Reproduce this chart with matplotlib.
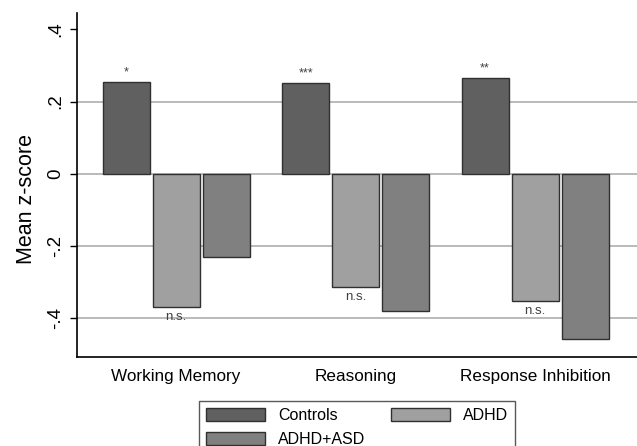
import numpy as np
import matplotlib.pyplot as plt

plt.rcParams['font.family'] = ['Liberation Sans', 'DejaVu Sans']

tasks = ['Working Memory', 'Reasoning', 'Response Inhibition']
groups = ['Controls', 'ADHD', 'ADHD+ASD']
controls = [0.255, 0.251, 0.265]
adhd = [-0.367, -0.313, -0.352]
adhd_asd = [-0.231, -0.380, -0.456]
stars = ['*', '***', '**']
ns_labels = ['n.s.', 'n.s.', 'n.s.']
yticks = [-0.4, -0.2, 0, 0.2, 0.4]
ytick_labels = ['-.4', '-.2', '0', '.2', '.4']
colors = ['#606060', '#a0a0a0', '#808080']

fig = plt.figure(figsize=(6.37, 4.46), dpi=100)
ax = fig.add_axes([0.121, 0.2, 0.879, 0.771])

x = np.arange(len(tasks))
pitch = 0.2786
width = 0.262
series = [controls, adhd, adhd_asd]

for gl in [-0.4, -0.2, 0, 0.2]:
    ax.axhline(gl, color='#b4b4b4', lw=1.3, zorder=0)

bars = []
for i, (vals, col, name) in enumerate(zip(series, colors, groups)):
    b = ax.bar(x + (i - 1) * pitch, vals, width, color=col, edgecolor='#303030',
               linewidth=1.0, label=name, zorder=2)
    bars.append(b)

for xi, v, s in zip(x, controls, stars):
    ax.text(xi - pitch, v + 0.01, s, ha='center', va='bottom', fontsize=9, color='#404040')
for xi, v, s in zip(x, adhd, ns_labels):
    ax.text(xi, v - 0.012, s, ha='center', va='top', fontsize=9.5, color='#404040')

ax.set_xlim(-0.552, 2.568)
ax.set_ylim(-0.506, 0.445)
ax.set_xticks(x)
ax.set_xticklabels(tasks, fontsize=12.3)
ax.tick_params(axis='x', length=0, pad=9)
ax.set_yticks(yticks)
ax.set_yticklabels(ytick_labels, rotation=90, va='center', fontsize=13.5)
ax.tick_params(axis='y', length=5, width=1, pad=4)
ax.set_ylabel('Mean z-score', fontsize=15.5)
ax.yaxis.set_label_coords(-0.072, 0.46)

for side in ['top', 'right']:
    ax.spines[side].set_visible(False)
for side in ['left', 'bottom']:
    ax.spines[side].set_linewidth(1.2)

handles = [bars[0], bars[2], bars[1]]
labels = [groups[0], groups[2], groups[1]]
ax.legend(handles, labels, ncol=2, loc='upper center', bbox_to_anchor=(0.5, -0.128),
          frameon=True, fancybox=False, edgecolor='#303030', fontsize=11.5,
          handlelength=3.7, handleheight=0.85, columnspacing=1.6, labelspacing=0.55,
          borderpad=0.45, borderaxespad=0)

fig.savefig('out.png', dpi=100)
